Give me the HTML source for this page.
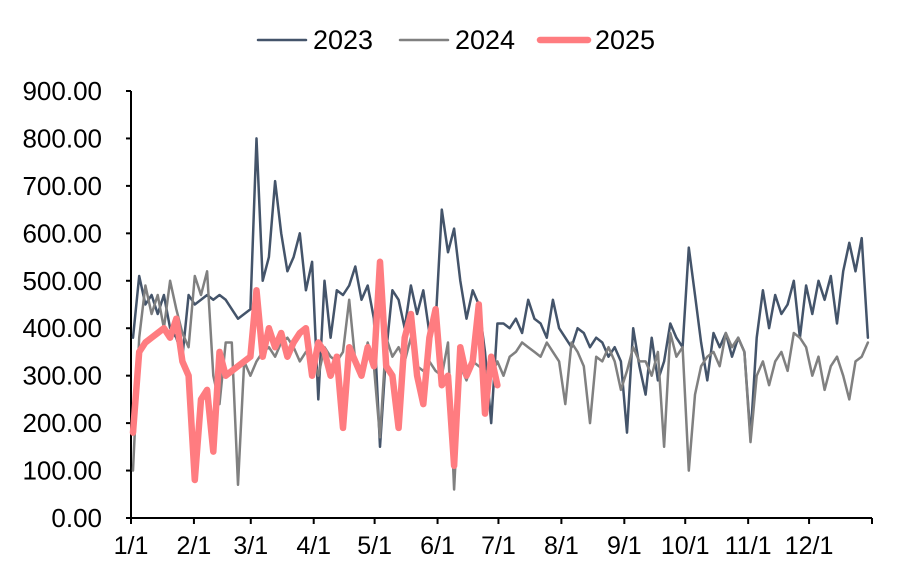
<!DOCTYPE html>
<html><head><meta charset="utf-8"><style>
body{margin:0;background:#fff;font-family:"Liberation Sans",Arial,sans-serif}
</style></head><body>
<svg width="903" height="582" xmlns="http://www.w3.org/2000/svg">
<g id="legend"></g>
<g id="grid"></g>
<g id="series"></g>
</svg>
<script>
const yTicks=[0,100,200,300,400,500,600,700,800,900];
const monthLabels=["1/1","2/1","3/1","4/1","5/1","6/1","7/1","8/1","9/1","10/1","11/1","12/1"];
const monthStartDays=[0,31,59,90,120,151,181,212,243,273,304,334];
const v2023=[380,510,450,470,430,470,400,380,340,470, 450,460,470,460,470,460,440,420,430,440, 800,500,550,710,600,520,550,600,480,540, 250,500,380,480,470,490,530,460,490,420, 150,350,480,460,400,490,430,480,390,410, 650,560,610,500,420,480,450,350,200,410, 410,400,420,390,460,420,410,380,460,400, 380,360,400,390,360,380,370,340,360,330, 180,400,320,260,380,290,330,410,380,360, 570,470,370,290,390,360,390,340,380,350, 170,380,480,400,470,430,450,500,380,490, 430,500,460,510,410,520,580,520,590,380];
const v2024=[100,380,490,430,470,400,500,440,390,360, 510,470,520,300,240,370,370,70,330,300, 330,350,360,340,370,380,360,330,350,340, 300,360,340,330,350,460,330,300,370,320, 170,380,340,360,330,380,320,310,330,310, 300,370,60,320,290,330,320,310,300,330, 300,340,350,370,360,350,340,370,350,330, 240,370,350,320,200,340,330,360,330,270, 310,360,330,330,300,350,150,390,340,360, 100,260,320,340,350,320,390,360,380,350, 160,300,330,280,330,350,310,390,380,360, 300,340,270,320,340,300,250,330,340,370];
const v2025=[180,350,370,380,390,400,380,420,330,300, 80,250,270,140,350,300,310,320,330,340, 480,340,400,360,390,340,370,390,400,300, 370,350,300,340,190,360,330,300,360,320, 540,320,300,190,380,430,300,240,380,440, 280,300,110,360,300,330,450,220,340,280];
const NS="http://www.w3.org/2000/svg";
const X0=131,X1=872,Y0=518,Y1=91;
const xDay=d=>X0+d/365*(X1-X0);
const yVal=v=>Y0-v/900*(Y0-Y1);
const step=365/120;
function mk(t,a,p){const e=document.createElementNS(NS,t);for(const k in a)e.setAttribute(k,a[k]);p.appendChild(e);return e;}
const grid=document.getElementById('grid');
let ax=mk('line',{x1:X0,y1:Y1,x2:X0,y2:Y0,stroke:'#000','stroke-width':2},grid);


let bx=mk('line',{x1:X0,y1:Y0,x2:X1,y2:Y0,stroke:'#000','stroke-width':2},grid);


yTicks.forEach(v=>{
 mk('line',{x1:X0-5,y1:yVal(v),x2:X0,y2:yVal(v),stroke:'#000','stroke-width':2},grid);
 const t=mk('text',{x:X0-29,y:yVal(v)+9,'text-anchor':'end','font-size':26,fill:'#000'},grid);
 t.textContent=v.toFixed(2);
 
 
});
monthLabels.forEach((m,i)=>{
 const x=xDay(monthStartDays[i]);
 mk('line',{x1:x,y1:Y0,x2:x,y2:Y0+6,stroke:'#000','stroke-width':2},grid);
 const t=mk('text',{x:x,y:Y0+36,'text-anchor':'middle','font-size':25,fill:'#000'},grid);
 t.textContent=m;
 
 
});
mk('line',{x1:X1,y1:Y0,x2:X1,y2:Y0+6,stroke:'#000','stroke-width':2},grid);
const ser=document.getElementById('series');
function line(vals,color,w,name){
 const pts=vals.map((v,i)=>xDay(i*step+1).toFixed(1)+','+yVal(v).toFixed(1)).join(' ');
 const p=mk('polyline',{points:pts,fill:'none',stroke:color,'stroke-width':w,'stroke-linejoin':'round','stroke-linecap':'round'},ser);
 
 
}
line(v2023,'#44546A',2.5,'line-2023');
line(v2024,'#808080',2.5,'line-2024');
line(v2025,'#FF7C80',6.5,'line-2025');
const leg=document.getElementById('legend');
[['2023','#44546A',2.5,258],['2024','#808080',2.5,400],['2025','#FF7C80',6.5,540]].forEach(l=>{
 const g=mk('g',{},leg);
 
 
 mk('line',{x1:l[3],y1:40,x2:l[3]+48,y2:40,stroke:l[1],'stroke-width':l[2],'stroke-linecap':'round'},g);
 const t=mk('text',{x:l[3]+55,y:49,'font-size':27,fill:'#000'},g);
 t.textContent=l[0];
});
</script>
</body></html>
